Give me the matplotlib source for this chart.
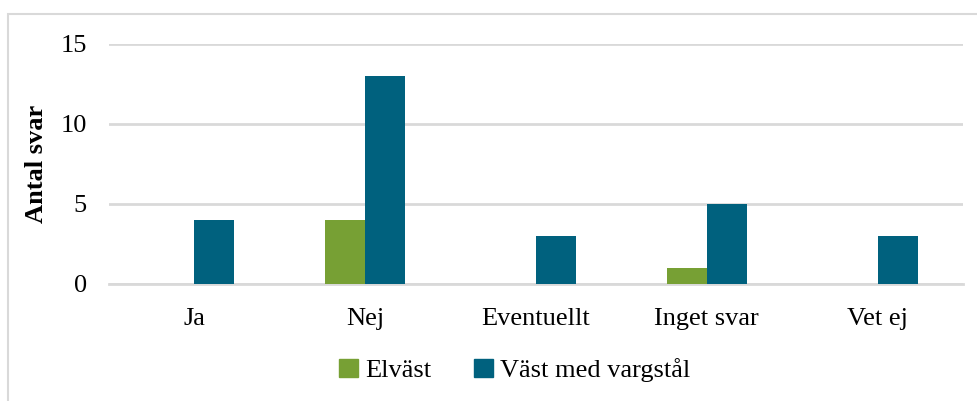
import matplotlib.pyplot as plt
import matplotlib.patches as mpatches
import numpy as np

categories = ['Ja', 'Nej', 'Eventuellt', 'Inget svar', 'Vet ej']
elvast = [0, 4, 0, 1, 0]
vast_vargstal = [4, 13, 3, 5, 3]
series_names = ['Elväst', 'Väst med vargstål']

green = '#77A034'
blue = '#00617E'
grid = '#D9D9D9'

plt.rcParams['font.family'] = ['Liberation Serif', 'DejaVu Serif']

W, H = 978, 401
fig = plt.figure(figsize=(W / 100, H / 100), dpi=100)
ax = fig.add_axes([109 / W, 1 - 284 / H, (963 - 109) / W, (284 - 44) / H])

x = np.arange(len(categories))
w = 0.234
ax.bar(x - w / 2, elvast, w, color=green, label=series_names[0], zorder=3)
ax.bar(x + w / 2, vast_vargstal, w, color=blue, label=series_names[1], zorder=3)

ax.set_xlim(-0.5, len(categories) - 0.5)
ax.set_ylim(0, 15)
ax.set_yticks([0, 5, 10, 15])
ax.yaxis.grid(True, color=grid, linewidth=2, zorder=0)
for s in ['top', 'right', 'left']:
    ax.spines[s].set_visible(False)
ax.spines['bottom'].set_color(grid)
ax.spines['bottom'].set_linewidth(2)
ax.set_xticks(x)
ax.set_xticklabels(categories)
ax.tick_params(axis='both', length=0, labelsize=19)
ax.tick_params(axis='x', pad=17)
ax.tick_params(axis='y', pad=16)
ax.set_ylabel('Antal svar', fontsize=19, fontweight='bold', labelpad=9)

handles = [mpatches.Patch(color=green), mpatches.Patch(color=blue)]
fig.legend(handles, series_names, loc='center', bbox_to_anchor=(515 / W, 1 - 370 / H),
           ncol=2, frameon=False, fontsize=19, handlelength=0.7, handleheight=0.7,
           handletextpad=0.3, columnspacing=1.6)

fig.patches.append(mpatches.Rectangle((8 / W, -0.1), 2, (H - 14) / H + 0.1,
                                      transform=fig.transFigure, fill=False,
                                      edgecolor=grid, linewidth=1.5))

fig.savefig('out.png', dpi=100)
